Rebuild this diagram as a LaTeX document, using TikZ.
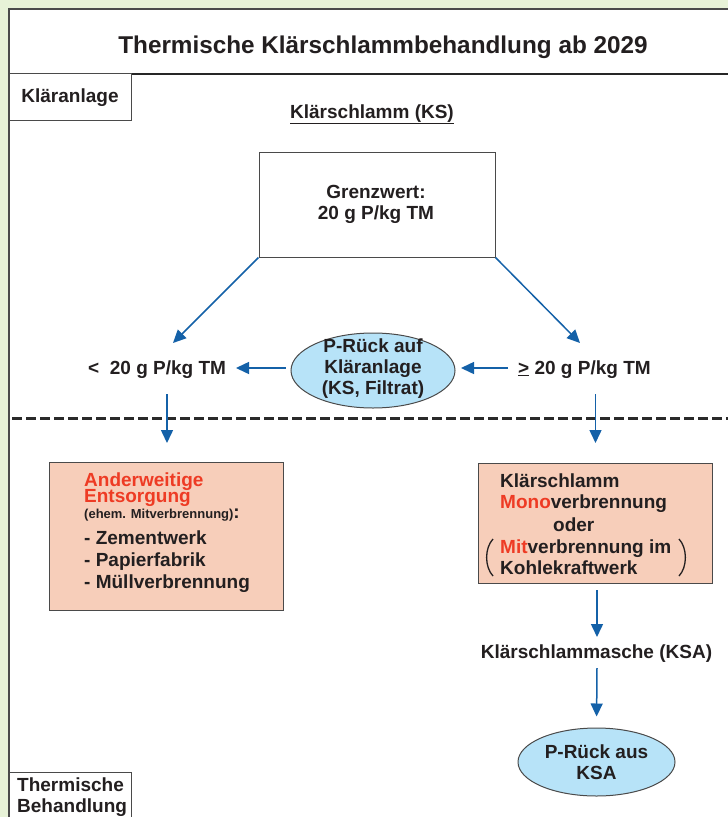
\documentclass[tikz,border=0pt]{standalone}
\usepackage{fontspec}
\setmainfont{Liberation Sans}
\usetikzlibrary{arrows.meta,shapes.geometric,calc}
\definecolor{bgc}{HTML}{E7F2D7}
\definecolor{frm}{HTML}{4A4A4A}
\definecolor{frmdark}{HTML}{262626}
\definecolor{txt}{HTML}{231F20}
\definecolor{arrc}{HTML}{1461A8}
\definecolor{ellc}{HTML}{B7E3F8}
\definecolor{boxc}{HTML}{F7CEBA}
\definecolor{redc}{HTML}{EE3B24}
\definecolor{dashc}{HTML}{2A2A2A}
\newcommand\fbody{\fontsize{19}{21}\selectfont\bfseries}
\newcommand\ftitle{\fontsize{24.3}{28}\selectfont\bfseries}
\newcommand\fsmall{\fontsize{13}{15}\selectfont\bfseries}
\begin{document}
\begin{tikzpicture}[x=1pt,y=-1pt,
  every node/.style={text=txt, font=\fbody, inner sep=0pt},
  lbl/.style={anchor=base},
  lblw/.style={anchor=base west},
  arr/.style={draw=arrc, line width=1.5pt, -{Triangle[width=12pt,length=13pt]}},
  pbox/.style={draw=frm, line width=1pt, fill=boxc},
  wbox/.style={draw=frm, line width=1pt, fill=white},
  ell/.style={ellipse, draw=frm, line width=1pt, fill=ellc, inner sep=0pt},
  paren/.style={draw=txt, line width=1.3pt}
]
\useasboundingbox (0,0) rectangle (728,817);
\fill[bgc] (0,0) rectangle (728,817);
\fill[white] (9,9) rectangle (740,830);
\draw[frm, line width=2pt] (740,9) -- (9,9) -- (9,830);
\draw[frmdark, line width=2pt] (9,74) -- (740,74);

% title
\node[lbl, font=\ftitle] (title) at (383,53) {Thermische Klärschlammbehandlung ab 2029};

% section boxes
\node[wbox, minimum width=122pt, minimum height=47pt, text height=13.6pt, text depth=4pt] (kl) at (70,97.2) {Kläranlage};
\node[wbox, minimum width=122pt, minimum height=60pt, anchor=north west] (tb) at (9,772) {};
\node[lblw] (tb1) at (17,791) {Thermische};
\node[lblw] (tb2) at (17,812) {Behandlung};

% Klärschlamm
\node[lbl] (ks) at (372,118) {\underline{Klärschlamm (KS)}};

% Grenzwert box
\node[wbox, minimum width=236pt, minimum height=105pt] (gw) at (377,204.5) {};
\node[lbl] (gw1) at (376,198) {Grenzwert:};
\node[lbl] (gw2) at (376,219) {20 g P/kg TM};

% branch labels
\node[lblw] (lt) at (88,374) {<\ \ 20 g P/kg TM};
\node[lblw] (ge) at (518,374) {\underline{>} 20 g P/kg TM};

% P-Rueck ellipse
\node[ell, minimum width=164pt, minimum height=75pt] (pr1) at (373,370.5) {};
\node[lbl] (p1a) at (373,352) {P-Rück auf};
\node[lbl] (p1b) at (373,373) {Kläranlage};
\node[lbl] (p1c) at (373,394) {(KS, Filtrat)};

% arrows upper part
\coordinate (t1) at (173,343);
\coordinate (t2) at (580,343);
\draw[arr] (gw.south west) -- (t1);
\draw[arr] (gw.south east) -- (t2);
\coordinate (h1s) at (285.5,368);
\coordinate (h1e) at (236,368);
\coordinate (h2s) at (508,368);
\coordinate (h2e) at (461,368);
\draw[arr] (h1s) -- (h1e);
\draw[arr] (h2s) -- (h2e);

% dashed separator
\draw[dashc, line width=3pt, dash pattern=on 10pt off 4pt] (12,418) -- (728,418);

% vertical arrows
\coordinate (v1s) at (167,394);
\coordinate (v1e) at (167,443);
\coordinate (v2s) at (595.5,394);
\coordinate (v2e) at (595.5,443);
\draw[arr] (v1s) -- (v1e);
\draw[arr] (v2s) -- (v2e);

% left box
\node[pbox, minimum width=234pt, minimum height=148pt] (ent) at (166,536.5) {};
\node[lblw, text=redc] (ent1) at (84,486.5) {Anderweitige};
\node[lblw, text=redc] (ent2) at (84,502.5) {Entsorgung};
\node[lblw] (ent3) at (84,518.5) {{\fsmall (ehem. Mitverbrennung)}:};
\node[lblw] (ent4) at (84,544) {- Zementwerk};
\node[lblw] (ent5) at (84,566) {- Papierfabrik};
\node[lblw] (ent6) at (84,588) {- Müllverbrennung};

% right box
\node[pbox, minimum width=234pt, minimum height=120pt] (mono) at (595,523) {};
\node[lblw] (m1) at (500,487) {Klärschlamm};
\node[lblw] (m2) at (500,508) {\textcolor{redc}{Mono}verbrennung};
\node[lblw] (m3) at (553,531) {oder};
\node[lblw] (m4) at (500,553) {\textcolor{redc}{Mit}verbrennung im};
\node[lblw] (m5) at (500,574) {Kohlekraftwerk};
\draw[paren] (493,539) .. controls (484.5,548) and (484.5,567) .. (493,576);
\draw[paren] (679,539) .. controls (687.5,548) and (687.5,567) .. (679,576);

% KSA
\node[lbl] (ksa) at (596.5,658) {Klärschlammasche (KSA)};
\coordinate (k1s) at (597,590);
\coordinate (k1e) at (597,637);
\draw[arr] (k1s) -- (k1e);
\node[ell, minimum width=157pt, minimum height=68pt] (pr2) at (596.5,762) {};
\node[lbl] (p2a) at (596.5,758) {P-Rück aus};
\node[lbl] (p2b) at (596.5,779) {KSA};
\coordinate (k2s) at (597,668);
\draw[arr, shorten >=11pt] (k2s) -- (pr2.north);
\end{tikzpicture}
\end{document}
